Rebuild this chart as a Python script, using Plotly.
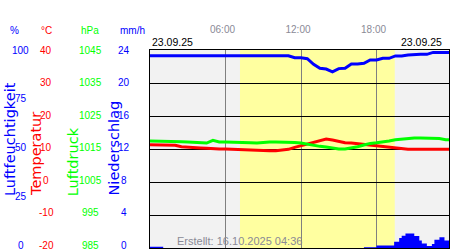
import plotly.graph_objects as go

# ---------------- data ----------------
hours = [i * 0.5 for i in range(49)]  # 00:00 .. 24:00, half-hourly

humidity = [97.1] * 22 + [97.1, 96.1, 96.1, 95.6, 92.8, 90.8, 90.4, 89.0, 90.6, 90.8,
                          92.9, 92.9, 93.3, 95.0, 95.0, 95.8, 95.8, 97.0, 97.0, 97.5,
                          97.8, 97.8, 97.8, 98.8, 98.8, 98.8, 98.8]

temperature = [11.3, 11.2, 11.2, 11.2, 11.1, 10.7, 10.5, 10.3, 10.3, 10.2,
               10.0, 10.0, 10.0, 9.9, 9.8, 9.7, 9.7, 9.5, 9.5, 9.5,
               9.5, 9.7, 9.9, 10.5, 11.0, 11.7, 12.2, 12.6, 13.0, 12.7,
               12.3, 11.9, 11.8, 11.6, 11.4, 11.2, 11.0, 10.8, 10.5, 10.3,
               10.0, 9.9, 9.9, 9.9, 9.9, 9.9, 9.9, 9.9, 9.9]

pressure = [1017.4, 1017.4, 1017.3, 1017.2, 1017.2, 1017.2, 1017.1, 1017.0, 1017.0, 1016.8,
            1017.6, 1017.1, 1017.1, 1017.1, 1017.0, 1017.0, 1016.9, 1016.8, 1017.0, 1017.1,
            1017.1, 1017.1, 1017.2, 1017.0, 1016.8, 1016.4, 1016.1, 1015.8, 1015.6, 1015.3,
            1015.0, 1015.0, 1015.3, 1015.7, 1016.2, 1016.7, 1016.9, 1017.1, 1017.4, 1017.8,
            1018.0, 1018.2, 1018.3, 1018.3, 1018.2, 1018.1, 1018.2, 1017.8, 1017.8]

precip_hours = [0, 1.05, 17.0, 18.0, 19.4, 19.8, 20.0, 20.3, 21.0, 21.4, 21.6, 22.0,
                22.4, 22.6, 23.0, 23.4, 23.8, 24.0]
precip = [0.15, 0, 0.1, 0.3, 0.75, 1.2, 1.5, 1.75, 1.45, 0.9, 0.55, 0.25,
          0.5, 1.0, 1.3, 0.9, 0.3, 0.3]

daylight = (7.15, 19.45)

time_ticks = [6, 12, 18]
time_labels = ["06:00", "12:00", "18:00"]

hum_ticks = [0, 25, 50, 75, 100]
temp_ticks = [-20, -10, 0, 10, 20, 30, 40]
pres_ticks = [985, 995, 1005, 1015, 1025, 1035, 1045]
prec_ticks = [0, 4, 8, 12, 16, 20, 24]

date_label = "23.09.25"
created = "Erstellt: 16.10.2025 04:36"

# ---------------- figure ----------------
W, H = 450, 250
L_PX, R_PX, T_PX, B_PX = 150, 449, 50, 248
FONT = "Arial, Liberation Sans, sans-serif"
TFONT = "DejaVu Sans, Verdana, sans-serif"
BLUE, RED, GREEN, GRAY = "#0000ff", "#ff0000", "#00ff00", "#8a8a96"


def px_x(px):
    return px / W


def px_y(py):
    return (B_PX - py) / (B_PX - T_PX)


fig = go.Figure()
fig.add_trace(go.Scatter(x=precip_hours, y=precip, yaxis="y4", mode="lines",
                         line=dict(shape="hv", width=0, color=BLUE),
                         fill="tozeroy", fillcolor=BLUE, hoverinfo="skip"))
fig.add_trace(go.Scatter(x=hours, y=pressure, yaxis="y3", mode="lines",
                         line=dict(color=GREEN, width=3)))
fig.add_trace(go.Scatter(x=hours, y=temperature, yaxis="y2", mode="lines",
                         line=dict(color=RED, width=3)))
fig.add_trace(go.Scatter(x=hours, y=humidity, yaxis="y", mode="lines",
                         line=dict(color=BLUE, width=3)))

hidden = dict(showticklabels=False, showgrid=False, zeroline=False, showline=False,
              ticks="", fixedrange=True)

fig.update_layout(
    width=W, height=H,
    margin=dict(l=0, r=0, t=T_PX, b=H - B_PX, pad=0),
    paper_bgcolor="white", plot_bgcolor="#f2f2f2",
    showlegend=False,
    font=dict(family=FONT, size=10),
    xaxis=dict(domain=[px_x(L_PX), px_x(R_PX)], range=[0, 23.76], side="top",
               tickvals=time_ticks, ticktext=time_labels, ticks="",
               showgrid=True, gridcolor="#808080", gridwidth=1, zeroline=False,
               showline=True, linecolor="black", linewidth=1, mirror=True,
               tickfont=dict(color=GRAY, size=10, family=FONT),
               ticklabelstandoff=12, ticklabelshift=-3),
    yaxis=dict(range=[0, 100], showline=True, linecolor="black", linewidth=1,
               mirror=True, showticklabels=False, showgrid=False, zeroline=False,
               ticks=""),
    yaxis2=dict(range=[-20, 40], overlaying="y", **hidden),
    yaxis3=dict(range=[985, 1045], overlaying="y", **hidden),
    yaxis4=dict(range=[0, 24], overlaying="y", showticklabels=False, ticks="",
                tickvals=prec_ticks, showgrid=True, gridcolor="black", gridwidth=1,
                zeroline=False, showline=False),
)

# daylight background
fig.add_shape(type="rect", xref="x", yref="y domain", x0=daylight[0], x1=daylight[1],
              y0=0, y1=1, fillcolor="#ffffa0", line=dict(width=0), layer="below")

ann = []
# tick label columns
cols = [("y", hum_ticks, 20.5, BLUE, "%", 14),
        ("y2", temp_ticks, 46.0, RED, "°C", 46.5),
        ("y3", pres_ticks, 90.6, GREEN, "hPa", 90),
        ("y4", prec_ticks, 124.0, BLUE, "mm/h", 132)]
for yref, ticks, cx, col, unit, ux in cols:
    lo, hi = ticks[0], ticks[-1]
    for v in ticks:
        frac = (v - lo) / (hi - lo)
        ann.append(dict(x=px_x(cx), xref="paper", y=v, yref=yref, text=str(v),
                        showarrow=False, xanchor="center", yanchor="middle",
                        yshift=3 * (1 - frac),
                        font=dict(color=col, size=10, family=FONT)))
    ann.append(dict(x=px_x(ux), xref="paper", y=px_y(30.5), yref="paper", text=unit,
                    showarrow=False, xanchor="center", yanchor="middle",
                    font=dict(color=col, size=10, family=FONT)))

# rotated axis titles
titles = [("Luftfeuchtigkeit", 0, "left", BLUE), ("Temperatur", 36, "center", RED),
          ("Luftdruck", 72.7, "center", GREEN), ("Niederschlag", 113, "center", BLUE)]
for txt, cx, xa, col in titles:
    ann.append(dict(x=px_x(cx), xref="paper", y=px_y(198), yref="paper", text=txt,
                    textangle=-90, showarrow=False, xanchor=xa, yanchor="bottom",
                    font=dict(color=col, size=14.5, family=TFONT)))

# dates and creation note
ann.append(dict(x=px_x(150), xref="paper", y=px_y(42), yref="paper", text=date_label,
                showarrow=False, xanchor="left", yanchor="middle",
                font=dict(color="black", size=10.5, family=FONT)))
ann.append(dict(x=px_x(444), xref="paper", y=px_y(42), yref="paper", text=date_label,
                showarrow=False, xanchor="right", yanchor="middle",
                font=dict(color="black", size=10.5, family=FONT)))
ann.append(dict(x=px_x(175), xref="paper", y=px_y(241), yref="paper", text=created,
                showarrow=False, xanchor="left", yanchor="middle",
                font=dict(color=GRAY, size=11, family=FONT)))

fig.update_layout(annotations=ann)
fig.write_html("out.html")
